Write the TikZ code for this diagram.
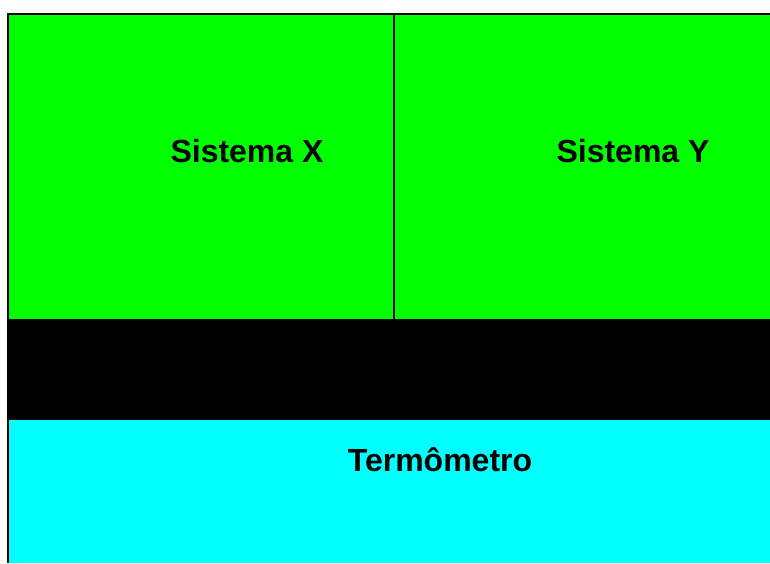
\documentclass[tikz,border=0pt]{standalone}
\usepackage{fontspec}
\setmainfont{Liberation Sans}
\definecolor{gx}{RGB}{0,255,0}
\definecolor{cy}{RGB}{0,255,255}
\begin{document}
\begin{tikzpicture}[x=1pt,y=-1pt,
  lbl/.style={font=\fontsize{32}{37}\selectfont\bfseries, anchor=base, inner sep=0pt}]
\useasboundingbox (0,0) rectangle (770,563);
\fill[gx] (8,14) rectangle (770,320);
\fill[black] (7,319) rectangle (770,420);
\fill[cy] (8,420) rectangle (770,563);
\draw[line width=2.5pt] (8,563) -- (8,14) -- (770,14);
\draw[line width=2pt] (394,14) -- (394,320);
\node[lbl] (sx) at (247,162) {Sistema X};
\node[lbl] (sy) at (633,162) {Sistema Y};
\node[lbl] (tm) at (440,471) {Termômetro};
\end{tikzpicture}
\end{document}
